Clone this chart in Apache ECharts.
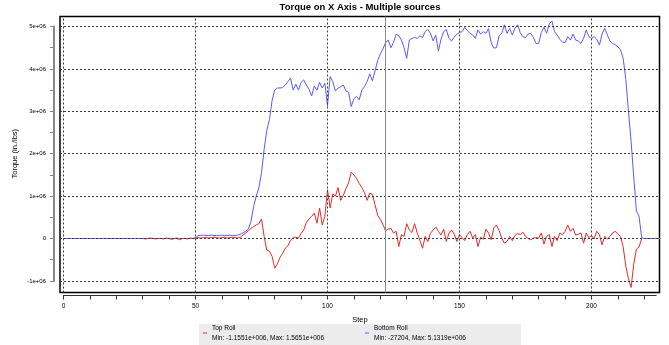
<!DOCTYPE html>
<html>
<head>
<meta charset="utf-8">
<title>Torque on X Axis - Multiple sources</title>
<script src="https://cdn.jsdelivr.net/npm/echarts@6/dist/echarts.min.js"></script>
<style>
  html, body { margin: 0; padding: 0; background: #fff; }
  #chart { width: 669px; height: 345px; }
</style>
</head>
<body>
<div id="chart"></div>
<script>
// Torque per step, in millions of in./lbs. Index = step number.
const MILLION = 1e6;

const bottomRoll = [
  0, 0, 0, 0, 0, 0, 0, 0, 0, 0,
  0, 0, 0, 0, 0, 0, 0, 0, 0, 0,
  0, 0, 0, 0, 0, 0, 0, 0, 0, 0,
  0, 0, 0, 0, 0, 0, 0, 0, 0, 0,
  0, 0, 0, 0, -0.027204, 0, 0, 0, 0, 0,
  0.01, 0.07, 0.07, 0.08, 0.07, 0.07, 0.08, 0.07, 0.07, 0.07,
  0.08, 0.07, 0.07, 0.08, 0.07, 0.07, 0.08, 0.1, 0.13, 0.17,
  0.22, 0.4, 0.75, 1.0, 1.2, 1.55, 2.1, 2.55, 2.8, 3.25,
  3.5, 3.55, 3.55, 3.56, 3.62, 3.7, 3.78, 3.5, 3.64, 3.5,
  3.68, 3.74, 3.62, 3.52, 3.36, 3.6, 3.5, 3.68, 3.55, 3.66,
  3.13, 3.82, 3.7, 3.48, 3.55, 3.58, 3.62, 3.48, 3.45, 3.11,
  3.3, 3.35, 3.27, 3.5, 3.58, 3.7, 3.88, 3.72, 3.95, 4.2,
  4.35, 4.47, 4.62, 4.68, 4.5, 4.62, 4.82, 4.78, 4.68, 4.5,
  4.25, 4.68, 4.72, 4.74, 4.72, 4.78, 4.74, 4.88, 4.93, 4.84,
  4.66, 4.8, 4.42, 4.7, 4.88, 4.93, 4.72, 4.66, 4.75, 4.82,
  4.86, 4.88, 4.98, 4.9, 4.84, 4.8, 4.72, 4.92, 4.82, 4.88,
  4.84, 4.95, 4.62, 4.49, 4.5, 4.78, 4.84, 5.04, 4.84, 4.95,
  4.8, 4.96, 5.04, 4.86, 4.76, 4.74, 4.82, 4.84, 4.74, 4.6,
  4.6, 4.86, 4.98, 4.84, 5.06, 5.1319, 4.88, 4.8, 4.7, 4.63,
  4.62, 4.76, 4.68, 4.82, 4.68, 4.66, 4.6, 4.72, 4.92, 4.76,
  4.72, 4.76, 4.7, 4.56, 4.82, 4.96, 4.8, 4.66, 4.6, 4.57,
  4.52, 4.45, 4.25, 3.75, 3.0, 2.29, 1.45, 0.65, 0.53, 0.02,
  0, 0, 0, 0, 0, 0, 0
];

const topRoll = [
  null, null, null, null, null, null, null, null, null, null,
  null, null, null, null, null, null, null, null, null, null,
  null, null, null, null, null, null, null, null, null, null,
  0, -0.01, 0, 0.01, 0, -0.01, 0, 0, -0.01, 0.01,
  0, -0.02, 0, 0.01, -0.01, 0, 0, -0.01, 0.01, 0,
  0.01, 0.02, 0.01, 0.02, 0.02, 0.01, 0.02, 0.03, 0.02, 0.01,
  0.02, 0.03, 0.01, 0.02, 0.03, 0.02, 0.01, 0.03, 0.08, 0.13,
  0.18, 0.24, 0.28, 0.32, 0.35, 0.46, 0.05, -0.27, -0.3, -0.42,
  -0.7, -0.6, -0.45, -0.35, -0.23, -0.17, -0.05, 0.02, 0.03, 0.01,
  0.12, 0.2, 0.38, 0.46, 0.52, 0.6, 0.36, 0.72, 0.32, 0.52,
  1.15, 0.72, 1.05, 1.0, 1.2, 0.9, 1.02, 1.18, 1.31, 1.5651,
  1.5, 1.42, 1.3, 1.2, 1.08, 0.9, 1.07, 1.04, 0.8, 0.55,
  0.45, 0.33, 0.18, 0.22, 0.24, 0.13, 0.17, -0.19, 0.09, 0.05,
  0.35, 0.2, 0.14, 0.35, 0.13, -0.05, -0.23, 0.05, -0.07, 0.12,
  0.2, 0.27, 0.17, 0.08, 0.22, -0.07, 0.12, 0.2, 0.1, -0.07,
  0.09, 0.02, -0.05, 0.1, 0.17, 0.01, 0.09, -0.19, 0.03, -0.02,
  0.22, 0.13, -0.03, 0.25, 0.32, 0.19, 0.01, -0.11, -0.07, 0.05,
  -0.05, 0.07, 0.12, 0.09, 0.15, 0.05, 0, -0.03, 0.01, 0.02,
  0.01, 0.13, -0.13, 0.05, 0.09, -0.19, 0.05, -0.05, 0.13, 0.09,
  0.17, 0.32, 0.17, 0.24, 0.08, 0.1, 0.13, -0.11, 0.13, 0.02,
  0.07, -0.01, 0.17, 0.09, -0.15, 0.05, -0.01, 0.05, 0.13, 0.17,
  0.1, 0.05, -0.2, -0.65, -0.95, -1.1551, -0.6, -0.25, -0.2, 0,
  null, null, null, null, null, null, null
];

const steps = bottomRoll.map((_, i) => i);

// Axis ticks and grid positions
const xGridSteps = [0, 50, 100, 150, 200];
const xLabelSteps = [0, 50, 100, 150, 200];
const xTickSteps = [0, 10, 20, 30, 40, 50, 60, 70, 80, 90, 100, 110, 120, 130, 140, 150, 160, 170, 180, 190, 200, 210, 220];
const yGridValues = [-1e6, 0, 1e6, 2e6, 3e6, 4e6, 5e6];
const yLabelValues = [-1e6, 0, 1e6, 2e6, 3e6, 4e6, 5e6];
const yTickValues = [-1e6, -5e5, 0, 5e5, 1e6, 1.5e6, 2e6, 2.5e6, 3e6, 3.5e6, 4e6, 4.5e6, 5e6];
const cursorStep = 122;

const seriesNames = ['Top Roll', 'Bottom Roll'];
const seriesColors = ['#e82a2a', '#5a5aff'];

const FONT = '"Liberation Sans", Arial, sans-serif';

function toPairs(values) {
  return steps
    .filter(i => values[i] !== null && values[i] !== undefined)
    .map(i => [i, values[i] * MILLION]);
}

// Min/Max readout in the legend, .NET "G5"-like formatting
function fmtG5(v) {
  const a = Math.abs(v);
  if (a === 0) return '0';
  if (Math.floor(Math.log10(a)) >= 5) {
    const parts = v.toExponential(4).split('e');
    const mant = parts[0].replace(/\.?0+$/, '');
    const sign = parts[1][0];
    const exp = parts[1].slice(1).padStart(3, '0');
    return mant + 'e' + sign + exp;
  }
  return String(Math.round(v));
}
function rangeText(values) {
  const nums = values.filter(v => v !== null).map(v => v * MILLION);
  return 'Min: ' + fmtG5(Math.min(...nums)) + ', Max: ' + fmtG5(Math.max(...nums));
}
const legendDetails = {
  'Top Roll': rangeText(topRoll),
  'Bottom Roll': rangeText(bottomRoll)
};

function fmtYLabel(v) {
  if (v === 0) return '0';
  return (v / MILLION) + 'e+06';
}

const chart = echarts.init(document.getElementById('chart'), null, { renderer: 'canvas' });

const legendCommon = {
  orient: 'vertical',
  padding: 0,
  icon: 'rect',
  itemWidth: 4,
  itemHeight: 1,
  selectedMode: false,
  textStyle: { fontFamily: FONT, fontSize: 6.5, lineHeight: 9.5, color: '#000' },
  formatter: name => name + '\n' + legendDetails[name]
};

chart.setOption({
  animation: false,
  backgroundColor: '#fff',
  textStyle: { fontFamily: FONT },
  grid: [
    // plot box
    { left: 60, top: 16.5, width: 599.5, height: 276, show: true, borderColor: '#000', borderWidth: 1.5, backgroundColor: 'transparent' },
    // detached step axis
    { left: 63.5, top: 294.5, width: 2.64 * 224.5, height: 1 },
    // detached torque axis
    { left: 54, top: 26.5, width: 1, height: 42.4 * 6 }
  ],
  xAxis: [
    { gridIndex: 0, type: 'value', min: -1.3258, max: 225.7576, show: false },
    {
      gridIndex: 1, type: 'value', min: 0, max: 224.5, position: 'bottom',
      axisLine: { lineStyle: { color: '#333', width: 1 } },
      axisTick: { show: true, length: 4, customValues: xTickSteps, lineStyle: { color: '#333' } },
      axisLabel: { customValues: xLabelSteps, fontSize: 6.5, margin: 7, color: '#000', fontFamily: FONT },
      splitLine: { show: false }
    },
    { gridIndex: 2, type: 'value', min: 0, max: 1, show: false }
  ],
  yAxis: [
    { gridIndex: 0, type: 'value', min: -1.27358e6, max: 5.23585e6, show: false },
    { gridIndex: 1, type: 'value', min: 0, max: 1, show: false },
    {
      gridIndex: 2, type: 'value', min: -1e6, max: 5e6, position: 'left',
      name: 'Torque (in./lbs)', nameLocation: 'middle', nameGap: 35, nameRotate: 90,
      nameTextStyle: { fontSize: 7.5, color: '#000', fontFamily: FONT },
      axisLine: { lineStyle: { color: '#888', width: 2 } },
      axisTick: { show: true, length: 4, customValues: yTickValues, lineStyle: { color: '#888' } },
      axisLabel: { customValues: yLabelValues, formatter: fmtYLabel, fontSize: 6, margin: 8, color: '#000', fontFamily: FONT },
      splitLine: { show: false }
    }
  ],
  legend: [
    Object.assign({ data: [seriesNames[0]], left: 203, top: 323.5 }, legendCommon),
    Object.assign({ data: [seriesNames[1]], left: 365, top: 323.5 }, legendCommon)
  ],
  graphic: [
    { type: 'rect', left: 199, top: 324, shape: { width: 322, height: 24 }, style: { fill: '#ececec' }, z: -10, silent: true },
    {
      type: 'text', x: 360, y: 7, silent: true,
      style: { text: 'Torque on X Axis - Multiple sources', fill: '#000', font: 'bold 9.5px ' + FONT, align: 'center', verticalAlign: 'middle' }
    },
    {
      type: 'text', x: 360, y: 320, silent: true,
      style: { text: 'Step', fill: '#000', font: '7.5px ' + FONT, align: 'center', verticalAlign: 'middle' }
    }
  ],
  series: [
    {
      // dashed reference grid and the step cursor
      type: 'line', xAxisIndex: 0, yAxisIndex: 0, data: [], silent: true, z: 1,
      markLine: {
        silent: true, symbol: 'none', animation: false,
        label: { show: false },
        lineStyle: { color: '#3a3a3a', type: [2, 2], width: 1 },
        data: [
          ...xGridSteps.map(v => ({ xAxis: v })),
          ...yGridValues.map(v => ({ yAxis: v })),
          { xAxis: cursorStep, lineStyle: { color: '#8a8a8a', type: 'solid', width: 1 } }
        ]
      }
    },
    {
      name: seriesNames[1], type: 'line', xAxisIndex: 0, yAxisIndex: 0, z: 3,
      data: toPairs(bottomRoll), showSymbol: false, symbol: 'none',
      lineStyle: { color: seriesColors[1], width: 1 }, itemStyle: { color: seriesColors[1] }
    },
    {
      name: seriesNames[0], type: 'line', xAxisIndex: 0, yAxisIndex: 0, z: 4,
      data: toPairs(topRoll), showSymbol: false, symbol: 'none',
      lineStyle: { color: seriesColors[0], width: 1 }, itemStyle: { color: seriesColors[0] }
    }
  ]
});
</script>
</body>
</html>
